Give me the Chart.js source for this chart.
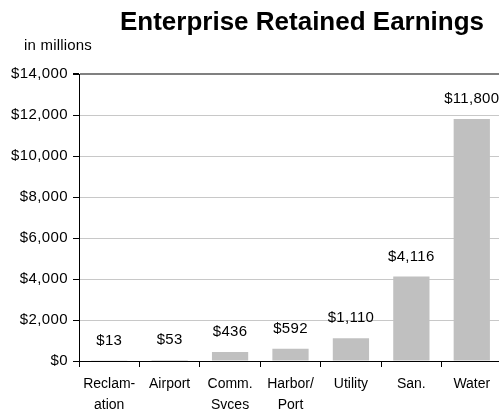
<!DOCTYPE html>
<html>
<head>
<meta charset="utf-8">
<script src="https://cdn.jsdelivr.net/npm/chart.js@4/dist/chart.umd.min.js"></script>
<style>
html,body{margin:0;padding:0;background:#fff;overflow:hidden;}
#wrap{position:relative;width:505px;height:411px;}
</style>
</head>
<body>
<div id="wrap"><canvas id="c"></canvas></div>
<script>
const categories = [['Reclam-','ation'],'Airport',['Comm.','Svces'],['Harbor/','Port'],'Utility','San.','Water'];
const values = [13, 53, 436, 592, 1110, 4116, 11800];
const valueLabels = ['$13','$53','$436','$592','$1,110','$4,116','$11,800'];
const yTickValues = [0, 2000, 4000, 6000, 8000, 10000, 12000, 14000];
const titleText = 'Enterprise Retained Earnings';
const unitText = 'in millions';
const FONT = "'Liberation Sans', Arial, sans-serif";

class SpacedLinear extends Chart.LinearScale {
  drawLabels(area) {
    const ctx = this.ctx;
    ctx.save();
    ctx.letterSpacing = '0.4px';
    super.drawLabels(area);
    ctx.restore();
  }
}
SpacedLinear.id = 'spacedLinear';
SpacedLinear.defaults = Chart.LinearScale.defaults;
Chart.register(SpacedLinear);

const textPlugin = {
  id: 'texts',
  afterDatasetsDraw(chart) {
    const ctx = chart.ctx;
    ctx.save();
    ctx.fillStyle = '#000';
    ctx.textBaseline = 'middle';
    ctx.textAlign = 'center';
    ctx.font = 'bold 26px ' + FONT;
    ctx.fillText(titleText, 302, 23);
    ctx.letterSpacing = '0.2px';
    ctx.font = '15px ' + FONT;
    ctx.textAlign = 'left';
    ctx.fillText(unitText, 24, 46);
    ctx.textAlign = 'center';
    ctx.letterSpacing = '0.3px';
    const meta = chart.getDatasetMeta(0);
    meta.data.forEach((bar, i) => {
      ctx.fillText(valueLabels[i], bar.x, bar.y - 20);
    });
    ctx.restore();
  }
};

new Chart(document.getElementById('c'), {
  type: 'bar',
  data: {
    labels: categories,
    datasets: [{
      data: values,
      backgroundColor: '#c0c0c0',
      borderWidth: 0,
      barPercentage: 0.6,
      categoryPercentage: 1.0
    }]
  },
  options: {
    responsive: true,
    maintainAspectRatio: false,
    animation: false,
    layout: { padding: { top: 74, left: 0, right: 3, bottom: 0 } },
    plugins: { legend: { display: false }, tooltip: { enabled: false }, title: { display: false } },
    scales: {
      x: {
        afterFit(s) { s.height = 50; },
        grid: { offset: true, drawOnChartArea: false, tickLength: 6, tickColor: '#000', tickWidth: 1 },
        border: { color: '#000', width: 1 },
        ticks: { color: '#000', font: { family: FONT, size: 14, lineHeight: 1.55 }, padding: 6, maxRotation: 0, autoSkip: false }
      },
      y: {
        type: 'spacedLinear',
        min: 0, max: 14000,
        afterFit(s) { s.width = 79; },
        afterBuildTicks(s) { s.ticks = yTickValues.map(v => ({ value: v })); },
        grid: {
          color: (c) => (c.tick && c.tick.value === 14000) ? '#808080' : '#c8c8c8',
          lineWidth: (c) => (c.tick && c.tick.value === 14000) ? 2 : 1,
          tickLength: 6, tickColor: '#000'
        },
        border: { color: '#000', width: 1 },
        ticks: {
          color: '#000', padding: 5,
          font: { family: FONT, size: 15 },
          callback: (v) => '$' + Number(v).toLocaleString('en-US')
        }
      }
    }
  },
  plugins: [textPlugin]
});
</script>
</body>
</html>
